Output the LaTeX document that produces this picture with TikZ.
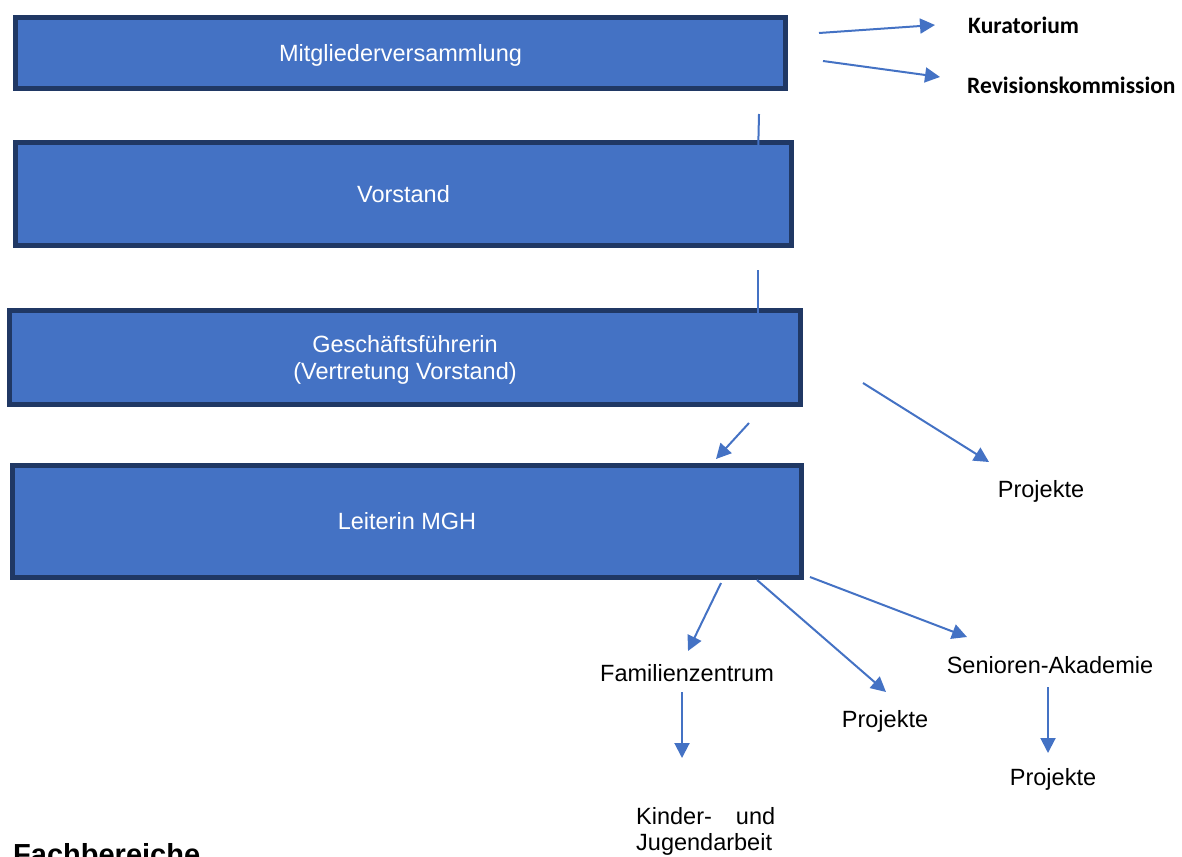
\documentclass[tikz,border=0pt]{standalone}
\usepackage{fontspec}
\setmainfont{Liberation Sans}
\newfontfamily\calibri{Carlito}
\usetikzlibrary{arrows.meta}
\definecolor{boxfill}{HTML}{4472C4}
\definecolor{boxline}{HTML}{203864}
\definecolor{arr}{HTML}{4472C4}
\begin{document}
\begin{tikzpicture}[x=1pt,y=-1pt,
  orgbox/.style={draw=boxline, fill=boxfill, line width=5pt, rectangle, text=white,
    font=\fontsize{23.5}{27.5}\selectfont, align=center, inner sep=0pt,
    text height=16.8pt, text depth=0pt},
  lbl/.style={font=\fontsize{23.5}{27.5}\selectfont, anchor=base, inner sep=0pt},
  blbl/.style={font=\calibri\bfseries\fontsize{23.5}{27.5}\selectfont, anchor=base west, inner sep=0pt},
  conn/.style={draw=arr, line width=2pt},
  arrow/.style={conn, -{Triangle[length=15pt,width=15pt]}}]
\useasboundingbox (0,0) rectangle (1182,856);

% boxes
\node[orgbox, minimum width=770pt, minimum height=71pt] (mv) at (400.5,53) {Mitgliederversammlung};
\node[orgbox, minimum width=776pt, minimum height=103pt] (vs) at (403.5,194) {Vorstand};
\node[orgbox, minimum width=791pt, minimum height=94pt, text height=44.3pt] (gf) at (405,357.5) {Geschäftsführerin\\(Vertretung Vorstand)};
\node[orgbox, minimum width=789pt, minimum height=112pt] (lm) at (407,521.5) {Leiterin MGH};

% labels
\node[blbl] (kur) at (968,34) {Kuratorium};
\node[blbl] (rev) at (967,94) {Revisionskommission};
\node[lbl] (proj1) at (1041,497) {Projekte};
\node[lbl] (fam) at (687,681) {Familienzentrum};
\node[lbl] (proj2) at (885,727) {Projekte};
\node[lbl] (sen) at (1050,673) {Senioren-Akademie};
\node[lbl] (proj3) at (1053,785) {Projekte};
\node[font=\fontsize{23.5}{26}\selectfont, anchor=base west, inner sep=0pt] (kj) at (636,824)
  {\vtop{\hbox to 139pt{Kinder-\hfill und}\hbox{Jugendarbeit}}};
\node[font=\bfseries\fontsize{29}{33}\selectfont, anchor=base west, inner sep=0pt] (fb) at (13,864) {Fachbereiche};

% connector coordinates
\coordinate (c1a) at (759,114); \coordinate (c1b) at (758,157);
\coordinate (c2a) at (758,270); \coordinate (c2b) at (758,317);
\coordinate (k1) at (819,33);  \coordinate (k2) at (935,25);
\coordinate (r1) at (823,61);  \coordinate (r2) at (940,77);
\coordinate (g1) at (749,423); \coordinate (g2) at (716,459);
\coordinate (p1) at (863,383); \coordinate (p2) at (989,462);
\coordinate (l1) at (721,583); \coordinate (l2) at (688,651);
\coordinate (m1) at (757,580); \coordinate (m2) at (886,692);
\coordinate (s1) at (810,577); \coordinate (s2) at (967,637);
\coordinate (f1) at (682,692); \coordinate (f2) at (682,758);
\coordinate (a1) at (1048,687); \coordinate (a2) at (1048,753);

% connectors
\draw[conn] (c1a) -- (c1b);
\draw[conn] (c2a) -- (c2b);
\draw[arrow] (k1) -- (k2);
\draw[arrow] (r1) -- (r2);
\draw[arrow] (g1) -- (g2);
\draw[arrow] (p1) -- (p2);
\draw[arrow] (l1) -- (l2);
\draw[arrow] (m1) -- (m2);
\draw[arrow] (s1) -- (s2);
\draw[arrow] (f1) -- (f2);
\draw[arrow] (a1) -- (a2);
\end{tikzpicture}
\end{document}
